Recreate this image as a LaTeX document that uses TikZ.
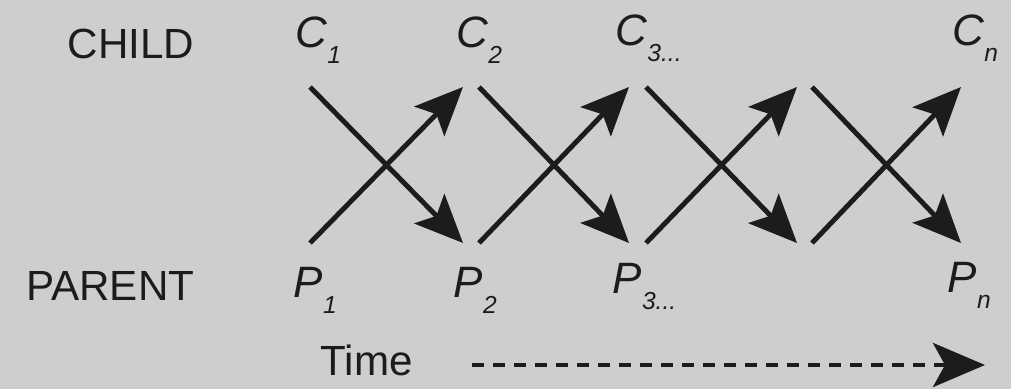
\documentclass[tikz,border=0pt]{standalone}
\usepackage{fontspec}
\setmainfont{Liberation Sans}
\usetikzlibrary{arrows.meta}
\definecolor{paper}{RGB}{208,206,204}
\definecolor{ink}{RGB}{28,28,28}
\newcommand{\sub}[1]{\raisebox{-4.6pt}{\fontsize{7}{8}\selectfont\itshape #1}}

\begin{document}
\begin{tikzpicture}[
    lab/.style={inner sep=0pt, text=ink, font=\fontsize{12}{14}\selectfont},
    gen/.style={lab, anchor=base west, font=\fontsize{12.5}{14}\selectfont\itshape},
    arr/.style={draw=ink, line width=1.4pt, -{Stealth[length=4.8mm, width=4.2mm, inset=1mm]}},
    tarr/.style={draw=ink, line width=1.4pt, dash pattern=on 1.2mm off 0.9mm,
      -{Stealth[length=5.2mm, width=4.4mm, inset=1.2mm]}}
  ]
  \fill[paper] (0,0) rectangle (10.11,3.89);
  \useasboundingbox (0,0) rectangle (10.11,3.89);

  % row labels
  \node[lab, anchor=base east] (child) at (1.95,3.31) {CHILD};
  \node[lab, anchor=base east] (parent) at (1.95,0.89) {PARENT};

  % generations
  \node[gen] (c1) at (2.95,3.42) {C\sub{1}};
  \node[gen] (c2) at (4.56,3.42) {C\sub{2}};
  \node[gen] (c3) at (6.15,3.44) {C\sub{3...}};
  \node[gen] (cn) at (9.52,3.44) {C\sub{n}};
  \node[gen] (p1) at (2.93,0.92) {P\sub{1}};
  \node[gen] (p2) at (4.53,0.92) {P\sub{2}};
  \node[gen] (p3) at (6.12,0.96) {P\sub{3...}};
  \node[gen] (pn) at (9.47,0.97) {P\sub{n}};

  % arrow ends
  \coordinate (t0) at (3.10,3.02);  \coordinate (b0) at (3.10,1.46);
  \coordinate (t1) at (4.63,3.02);  \coordinate (b1) at (4.63,1.46);
  \coordinate (t1b) at (4.79,3.02); \coordinate (b1b) at (4.79,1.46);
  \coordinate (t2) at (6.29,3.02);  \coordinate (b2) at (6.29,1.46);
  \coordinate (t2b) at (6.46,3.02); \coordinate (b2b) at (6.46,1.46);
  \coordinate (t3) at (7.97,3.02);  \coordinate (b3) at (7.97,1.46);
  \coordinate (t3b) at (8.12,3.02); \coordinate (b3b) at (8.12,1.46);
  \coordinate (t4) at (9.61,3.02);  \coordinate (b4) at (9.61,1.46);

  \draw[arr] (t0) -- (b1);
  \draw[arr] (b0) -- (t1);
  \draw[arr] (t1b) -- (b2);
  \draw[arr] (b1b) -- (t2);
  \draw[arr] (t2b) -- (b3);
  \draw[arr] (b2b) -- (t3);
  \draw[arr] (t3b) -- (b4);
  \draw[arr] (b3b) -- (t4);

  % time axis
  \node[lab, anchor=base west] (time) at (3.20,0.14) {Time};
  \coordinate (tstart) at (4.72,0.24);
  \coordinate (tend) at (9.85,0.24);
  \draw[tarr] (tstart) -- (tend);
\end{tikzpicture}
\end{document}
